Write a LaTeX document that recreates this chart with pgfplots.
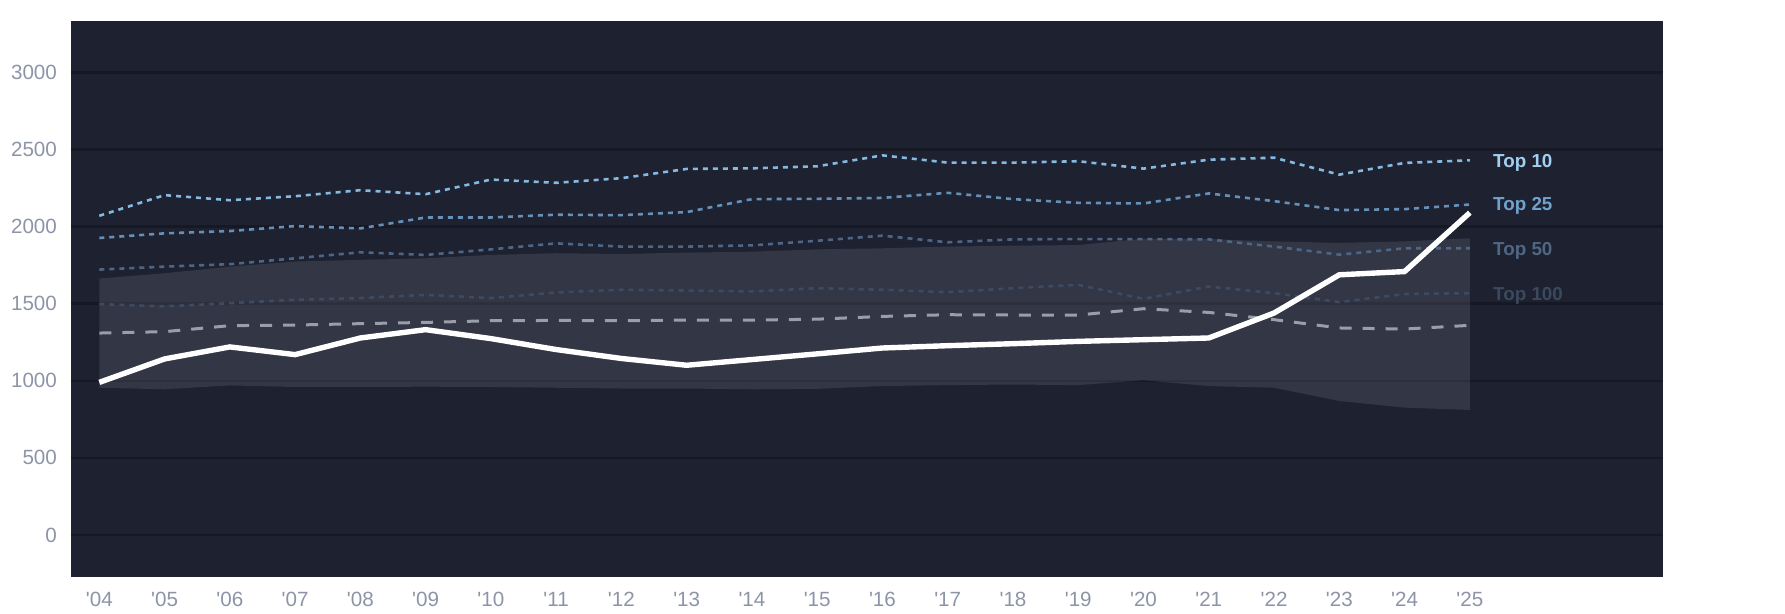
\documentclass[border=0pt]{standalone}
\usepackage{pgfplots}
\pgfplotsset{compat=1.18}
\usepackage{fontspec}
\setmainfont{Liberation Sans}
\definecolor{bgc}{HTML}{1D2130}
\definecolor{gridc}{HTML}{161923}
\definecolor{bandc}{HTML}{6B7080}
\definecolor{tickc}{HTML}{8C94A6}
\definecolor{tten}{HTML}{86B8E0}
\definecolor{ttenl}{HTML}{A3CFF0}
\definecolor{ttf}{HTML}{6790B8}
\definecolor{ttfl}{HTML}{70A2CE}
\definecolor{tfifty}{HTML}{4D6686}
\definecolor{tfiftyl}{HTML}{506784}
\definecolor{thund}{HTML}{3C4A62}
\definecolor{thundl}{HTML}{3B485D}
\definecolor{medc}{HTML}{9A9EA8}
\begin{document}
\begin{tikzpicture}
\begin{axis}[
  scale only axis,
  width=796pt, height=278pt,
  xmin=-0.434, xmax=23.96,
  ymin=-271, ymax=3337,
  axis background/.style={fill=bgc},
  axis line style={draw=none},
  major tick length=0pt,
  xtick={0,...,21},
  xticklabels={\textquotesingle04,\textquotesingle05,\textquotesingle06,\textquotesingle07,\textquotesingle08,\textquotesingle09,\textquotesingle10,\textquotesingle11,\textquotesingle12,\textquotesingle13,\textquotesingle14,\textquotesingle15,\textquotesingle16,\textquotesingle17,\textquotesingle18,\textquotesingle19,\textquotesingle20,\textquotesingle21,\textquotesingle22,\textquotesingle23,\textquotesingle24,\textquotesingle25},
  ytick={0,500,...,3000},
  /pgf/number format/assume math mode=true,
  /pgf/number format/1000 sep={},
  ymajorgrids,
  major grid style={draw=gridc, line width=1.3pt},
  ticklabel style={font=\fontsize{10.3pt}{12pt}\selectfont, text=tickc},
  yticklabel style={inner sep=0pt, anchor=east, xshift=-6.85pt},
  xticklabel style={inner sep=0pt, anchor=north, yshift=-7.5pt},
  clip=false,
]
% band
\addplot[draw=none, fill=bandc, fill opacity=0.27] coordinates {
(0,1664) (1,1698) (2,1741) (3,1774) (4,1785) (5,1795) (6,1817) (7,1828) (8,1823) (9,1832) (10,1838) (11,1853) (12,1860) (13,1871) (14,1877) (15,1881) (16,1922) (17,1920) (18,1905) (19,1895) (20,1905) (21,1925)
(21,811) (20,826) (19,869) (18,955) (17,966) (16,1004) (15,972) (14,976) (13,972) (12,966) (11,948) (10,945) (9,950) (8,950) (7,955) (6,960) (5,962) (4,960) (3,960) (2,970) (1,945) (0,955)
} -- cycle;
% Top 100
\addplot[thund, line width=1.3pt, dash pattern=on 2.5pt off 2.5pt] coordinates {
(0,1498) (1,1483) (2,1504) (3,1526) (4,1537) (5,1558) (6,1537) (7,1573) (8,1591) (9,1586) (10,1580) (11,1601) (12,1591) (13,1575) (14,1601) (15,1623) (16,1532) (17,1612) (18,1569) (19,1511) (20,1563) (21,1569)};
% median
\addplot[medc, line width=1.5pt, dash pattern=on 6pt off 5.5pt] coordinates {
(0,1310) (1,1319) (2,1358) (3,1362) (4,1371) (5,1379) (6,1390) (7,1392) (8,1390) (9,1394) (10,1394) (11,1400) (12,1418) (13,1429) (14,1427) (15,1427) (16,1468) (17,1444) (18,1397) (19,1343) (20,1336) (21,1360)};
% Top 50
\addplot[tfifty, line width=1.3pt, dash pattern=on 2.5pt off 2.5pt] coordinates {
(0,1722) (1,1741) (2,1757) (3,1795) (4,1834) (5,1817) (6,1853) (7,1892) (8,1871) (9,1871) (10,1879) (11,1909) (12,1942) (13,1899) (14,1918) (15,1920) (16,1920) (17,1918) (18,1871) (19,1819) (20,1860) (21,1860)};
% Top 25
\addplot[ttf, line width=1.3pt, dash pattern=on 2.5pt off 2.5pt] coordinates {
(0,1927) (1,1957) (2,1972) (3,2004) (4,1989) (5,2060) (6,2060) (7,2078) (8,2075) (9,2095) (10,2179) (11,2181) (12,2187) (13,2220) (14,2179) (15,2155) (16,2151) (17,2216) (18,2166) (19,2108) (20,2114) (21,2144)};
% Top 10
\addplot[tten, line width=1.3pt, dash pattern=on 2.5pt off 2.5pt] coordinates {
(0,2071) (1,2205) (2,2172) (3,2198) (4,2237) (5,2211) (6,2306) (7,2285) (8,2315) (9,2375) (10,2379) (11,2392) (12,2463) (13,2416) (14,2416) (15,2425) (16,2377) (17,2435) (18,2448) (19,2338) (20,2414) (21,2431)};
% main
\addplot[white, line width=2.7pt] coordinates {
(0,990) (1,1142) (2,1220) (3,1170) (4,1278) (5,1332) (6,1274) (7,1203) (8,1145) (9,1101) (10,1138) (11,1175) (12,1213) (13,1228) (14,1241) (15,1256) (16,1267) (17,1278) (18,1440) (19,1688) (20,1709) (21,2091)};
\begin{scope}[every node/.style={anchor=west, inner sep=0pt, xshift=11.5pt, yshift=-1.2pt, font=\fontsize{9.4pt}{11pt}\selectfont\bfseries}]
\node[text=ttenl] at (axis cs:21,2433) {Top 10};
\node[text=ttfl] at (axis cs:21,2148) {Top 25};
\node[text=tfiftyl] at (axis cs:21,1860) {Top 50};
\node[text=thundl] at (axis cs:21,1564) {Top 100};
\end{scope}
\end{axis}
\pgfresetboundingbox
\path (-35.5pt,-18.65pt) rectangle (857pt,288.35pt);
\end{tikzpicture}
\end{document}
